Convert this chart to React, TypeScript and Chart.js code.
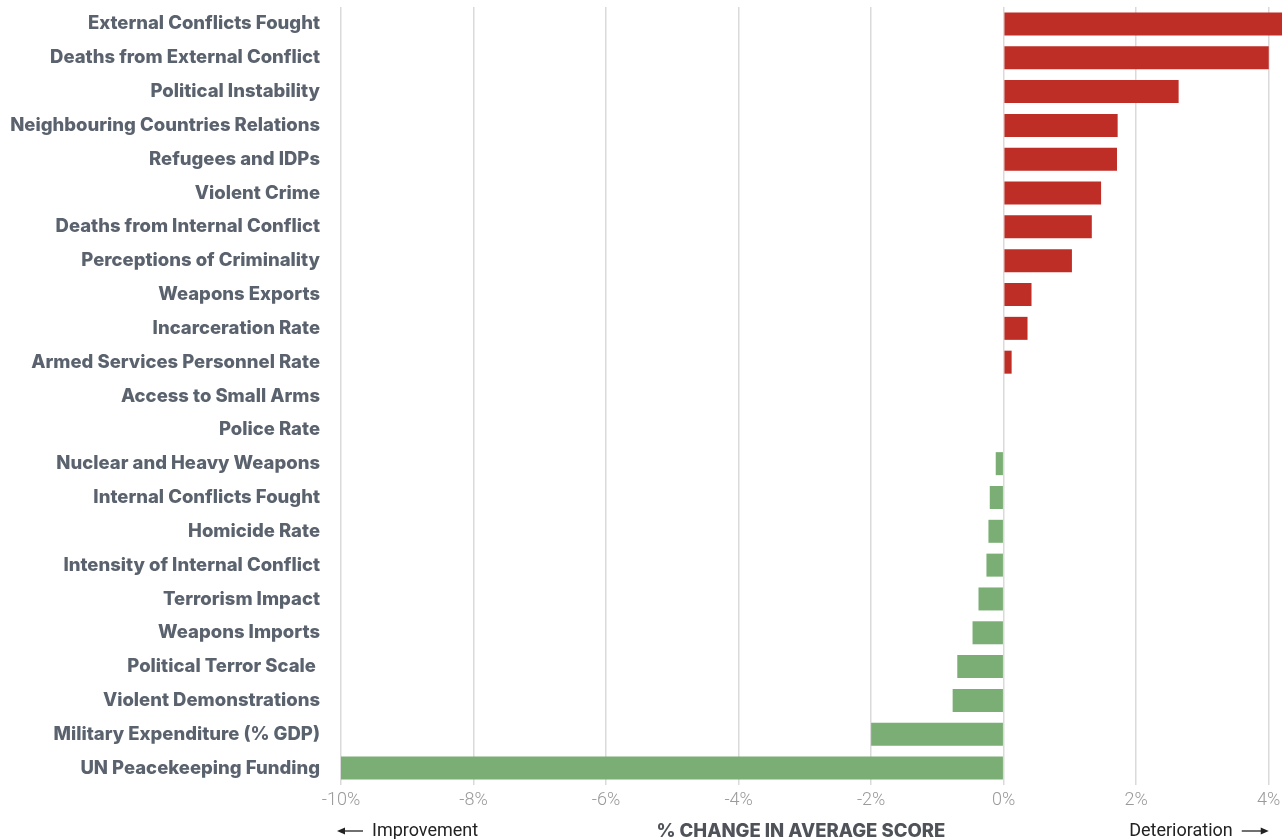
import React, { useEffect, useRef } from "react";
import { Chart, registerables } from "chart.js";

Chart.register(...registerables);

const categories: string[] = [
  "External Conflicts Fought",
  "Deaths from External Conflict",
  "Political Instability",
  "Neighbouring Countries Relations",
  "Refugees and IDPs",
  "Violent Crime",
  "Deaths from Internal Conflict",
  "Perceptions of Criminality",
  "Weapons Exports",
  "Incarceration Rate",
  "Armed Services Personnel Rate",
  "Access to Small Arms",
  "Police Rate",
  "Nuclear and Heavy Weapons",
  "Internal Conflicts Fought",
  "Homicide Rate",
  "Intensity of Internal Conflict",
  "Terrorism Impact",
  "Weapons Imports",
  "Political Terror Scale ",
  "Violent Demonstrations",
  "Military Expenditure (% GDP)",
  "UN Peacekeeping Funding",
];

const values: number[] = [
  4.3, 4.0, 2.64, 1.72, 1.71, 1.47, 1.33, 1.03, 0.42, 0.36, 0.12, 0, 0,
  -0.12, -0.21, -0.23, -0.26, -0.38, -0.47, -0.7, -0.77, -2.0, -10.0,
];

const xTicks: number[] = [-10, -8, -6, -4, -2, 0, 2, 4];
const axisTitle = "% CHANGE IN AVERAGE SCORE";
const leftNote = "Improvement";
const rightNote = "Deterioration";

const RED = "#bf2e26";
const GREEN = "#7aae74";
const LABEL_FONT = "Inter, 'Noto Sans', sans-serif";
const TICK_FONT = "Roboto, 'Liberation Sans', sans-serif";

export default function App() {
  const ref = useRef<HTMLCanvasElement | null>(null);

  useEffect(() => {
    document.body.style.margin = "0";
    const canvas = ref.current;
    if (!canvas) return;
    let chart: any = null;
    let cancelled = false;

    const notesPlugin = {
      id: "notes",
      afterDraw(c: any) {
        const ctx = c.ctx;
        const x = c.scales.x;
        const y0 = 831;
        const left = x.getPixelForValue(-10);
        const right = x.getPixelForValue(4);
        ctx.save();
        ctx.textBaseline = "middle";
        ctx.fillStyle = "#222";
        ctx.strokeStyle = "#222";
        ctx.lineWidth = 1.3;
        ctx.font = `400 18px ${TICK_FONT}`;
        const drawArrow = (x1: number, x2: number) => {
          const dir = x2 > x1 ? 1 : -1;
          ctx.beginPath();
          ctx.moveTo(x1, y0);
          ctx.lineTo(x2 - dir * 6, y0);
          ctx.stroke();
          ctx.beginPath();
          ctx.moveTo(x2, y0);
          ctx.lineTo(x2 - dir * 8, y0 - 3.5);
          ctx.lineTo(x2 - dir * 8, y0 + 3.5);
          ctx.closePath();
          ctx.fill();
        };
        drawArrow(left + 22, left - 4);
        ctx.textAlign = "left";
        ctx.fillText(leftNote, left + 31, y0);
        drawArrow(right - 27, right);
        ctx.textAlign = "right";
        ctx.fillText(rightNote, right - 36, y0);
        ctx.fillStyle = "#4f5359";
        ctx.font = `800 18.5px ${LABEL_FONT}`;
        ctx.textAlign = "center";
        ctx.fillText(axisTitle, (left + right) / 2 - 4, y0);
        ctx.restore();
      },
    };

    const build = () => {
      if (cancelled) return;
      chart = new Chart(canvas, {
        type: "bar",
        data: {
          labels: categories,
          datasets: [
            {
              data: values,
              backgroundColor: values.map((v) => (v > 0 ? RED : GREEN)),
              borderWidth: 0,
              barPercentage: 0.68,
              categoryPercentage: 1,
            },
          ],
        },
        options: {
          indexAxis: "y",
          responsive: false,
          animation: false,
          layout: { padding: { top: 7, right: 0, left: 0, bottom: 0 } },
          plugins: { legend: { display: false }, tooltip: { enabled: false } },
          scales: {
            x: {
              min: -10,
              max: 4.2,
              afterFit(scale: any) {
                scale.height = 54;
                scale.paddingLeft = 0;
                scale.paddingRight = 0;
              },
              afterBuildTicks(scale: any) {
                scale.ticks = xTicks.map((v) => ({ value: v }));
              },
              grid: {
                color: "#dadada",
                lineWidth: 1.5,
                drawTicks: false,
              },
              border: { display: false },
              ticks: {
                padding: 5,
                color: "#9a9a9a",
                font: { family: TICK_FONT, size: 18, weight: "300" },
                callback: (v: any) => `${v}%`,
                maxRotation: 0,
              },
            },
            y: {
              afterFit(scale: any) {
                scale.width = 341;
                scale.paddingTop = 0;
                scale.paddingBottom = 0;
              },
              grid: { display: false, drawTicks: false },
              border: { display: false },
              ticks: {
                padding: 21,
                color: "#5a626e",
                font: { family: LABEL_FONT, size: 18.5, weight: "800" },
                autoSkip: false,
              },
            },
          },
        },
        plugins: [notesPlugin],
      });
    };

    const fonts: any = (document as any).fonts;
    if (fonts && fonts.load) {
      Promise.all([
        fonts.load(`800 18.5px Inter`),
        fonts.load(`300 18px Roboto`),
        fonts.load(`400 18px Roboto`),
      ])
        .catch(() => null)
        .then(build);
    } else {
      build();
    }

    return () => {
      cancelled = true;
      if (chart) chart.destroy();
    };
  }, []);

  return (
    <div style={{ width: 1282, height: 839 }}>
      <canvas ref={ref} width={1282} height={839} />
    </div>
  );
}
